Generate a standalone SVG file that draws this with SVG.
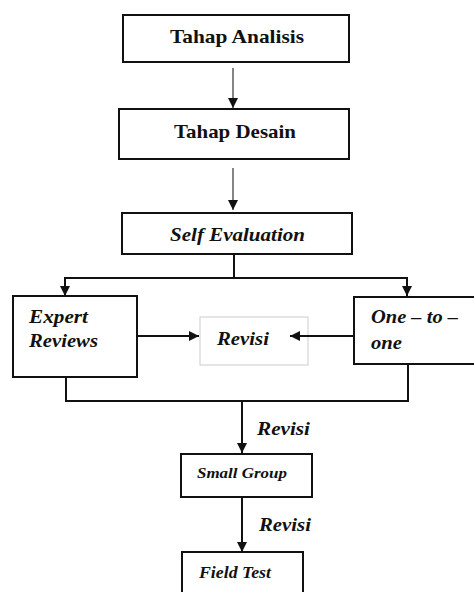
<svg xmlns="http://www.w3.org/2000/svg" width="474" height="592" viewBox="0 0 474 592">
<style>
.box{fill:#fff;stroke:#111;stroke-width:2}
.lbox{fill:#fff;stroke:#d4d4d4;stroke-width:1.2}
text{font-family:'Liberation Serif','DejaVu Serif',serif;font-weight:700;fill:#111}
.i{font-style:italic}
.c{stroke:#111;stroke-width:2;fill:none}
.c1{stroke:#333;stroke-width:1.2;fill:none}
</style>
<defs>
<marker id="ah" viewBox="0 0 10 10" refX="10" refY="5" markerWidth="10" markerHeight="10" markerUnits="userSpaceOnUse" orient="auto">
<path d="M0,0 L10,5 L0,10 z" fill="#111"/>
</marker>
</defs>
<g id="tahap-analisis">
<rect class="box" x="123" y="15" width="226" height="47"/>
<text x="170" y="43" font-size="19" textLength="134" lengthAdjust="spacingAndGlyphs">Tahap Analisis</text>
</g>
<g id="tahap-desain">
<rect class="box" x="119" y="109" width="230" height="50"/>
<text x="174" y="138" font-size="19" textLength="122" lengthAdjust="spacingAndGlyphs">Tahap Desain</text>
</g>
<g id="self-evaluation">
<rect class="box" x="122" y="213" width="230" height="41"/>
<text class="i" x="170" y="241" font-size="19" textLength="135" lengthAdjust="spacingAndGlyphs">Self Evaluation</text>
</g>
<g id="expert-reviews">
<rect class="box" x="13" y="296" width="124" height="81"/>
<text class="i" x="29" y="323" font-size="19" textLength="59" lengthAdjust="spacingAndGlyphs">Expert</text>
<text class="i" x="29" y="347" font-size="19" textLength="69" lengthAdjust="spacingAndGlyphs">Reviews</text>
</g>
<g id="revisi">
<rect class="lbox" x="200" y="317" width="108" height="48"/>
<text class="i" x="217" y="345" font-size="19" textLength="52" lengthAdjust="spacingAndGlyphs">Revisi</text>
</g>
<g id="one-to-one">
<rect class="box" x="354" y="297" width="130" height="67"/>
<text class="i" x="371" y="323" font-size="19" textLength="87" lengthAdjust="spacingAndGlyphs">One – to –</text>
<text class="i" x="371" y="349" font-size="19" textLength="31" lengthAdjust="spacingAndGlyphs">one</text>
</g>
<g id="small-group">
<rect class="box" x="181" y="454" width="131" height="43"/>
<text class="i" x="197" y="478" font-size="15" textLength="90" lengthAdjust="spacingAndGlyphs">Small Group</text>
</g>
<g id="field-test">
<rect class="box" x="182" y="552" width="121" height="50"/>
<text class="i" x="199" y="578" font-size="16" textLength="72" lengthAdjust="spacingAndGlyphs">Field Test</text>
</g>
<g id="connectors">
<line class="c1" x1="233" y1="68" x2="233" y2="108" marker-end="url(#ah)"/>
<line class="c1" x1="233" y1="168" x2="233" y2="210" marker-end="url(#ah)"/>
<polyline class="c" points="234,255 234,278"/>
<polyline class="c" points="65,296 65,278 407,278 407,296" marker-end="url(#ah)"/>
<line class="c" x1="65" y1="278" x2="65" y2="296" marker-end="url(#ah)"/>
<line class="c" x1="137" y1="336" x2="199" y2="336" marker-end="url(#ah)"/>
<line class="c" x1="353" y1="336" x2="290" y2="336" marker-end="url(#ah)"/>
<polyline class="c" points="66,377 66,401 408,401 408,365"/>
<line class="c" x1="242" y1="401" x2="242" y2="453" marker-end="url(#ah)"/>
<line class="c" x1="242" y1="498" x2="242" y2="552" marker-end="url(#ah)"/>
<text class="i" x="257" y="435" font-size="19" textLength="53" lengthAdjust="spacingAndGlyphs">Revisi</text>
<text class="i" x="259" y="531" font-size="19" textLength="52" lengthAdjust="spacingAndGlyphs">Revisi</text>
</g>
</svg>
